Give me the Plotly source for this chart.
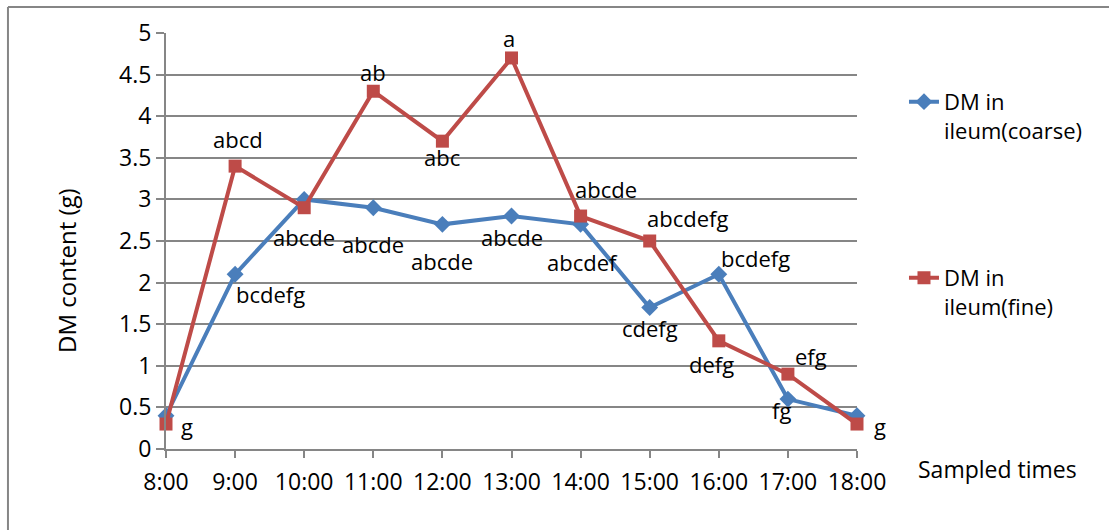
import plotly.graph_objects as go

# Sampling times and dry-matter content in the ileum
times = ["8:00", "9:00", "10:00", "11:00", "12:00", "13:00",
         "14:00", "15:00", "16:00", "17:00", "18:00"]
coarse = [0.4, 2.1, 3.0, 2.9, 2.7, 2.8, 2.7, 1.7, 2.1, 0.6, 0.4]
fine = [0.3, 3.4, 2.9, 4.3, 3.7, 4.7, 2.8, 2.5, 1.3, 0.9, 0.3]

# Significance letters attached to each point ("" = no label)
coarse_letters = ["", "bcdefg", "abcde", "abcde", "abcde", "abcde",
                  "abcdef", "cdefg", "bcdefg", "fg", ""]
fine_letters = ["g", "abcd", "", "ab", "abc", "a",
                "abcde", "abcdefg", "defg", "efg", "g"]

# Pixel offsets of each letter label from its point
coarse_offsets = [(0, 0), (35, -20), (0, -38), (0, -36), (0, -37), (0, -21),
                  (2, -38), (0, -20), (37, 16), (-6, -11), (0, 0)]
fine_offsets = [(21, -2), (3, 27), (0, 0), (0, 19), (0, -16), (-3, 20),
                (25, 27), (38, 23), (-7, -23), (23, 18), (23, -2)]

BLUE = "#4A7EBB"
RED = "#BE4B48"
GRID = "#868686"
FONT = "Open Sans"

fig = go.Figure()
fig.add_trace(go.Scatter(
    x=times, y=coarse, mode="lines+markers", name="DM in<br>ileum(coarse)",
    line=dict(color=BLUE, width=4),
    marker=dict(symbol="diamond", size=13, color=BLUE),
    cliponaxis=False, legendgroup="c"))
fig.add_trace(go.Scatter(
    x=times, y=fine, mode="lines+markers", name="DM in<br>ileum(fine)",
    line=dict(color=RED, width=4),
    marker=dict(symbol="square", size=13, color=RED),
    cliponaxis=False, legendgroup="f"))

annotations = []
for letters, values, offsets in ((coarse_letters, coarse, coarse_offsets),
                                 (fine_letters, fine, fine_offsets)):
    for t, v, lab, (dx, dy) in zip(times, values, letters, offsets):
        if lab:
            annotations.append(dict(
                x=t, y=v, xref="x", yref="y", text=lab, showarrow=False,
                xanchor="center", yanchor="middle",
                xshift=dx, yshift=dy, font=dict(family=FONT, size=22, color="black")))

# Axis titles
annotations.append(dict(
    text="DM content (g)", xref="paper", yref="paper", x=-0.145, y=0.43,
    xanchor="center", yanchor="middle",
    textangle=-90, showarrow=False, font=dict(family=FONT, size=24, color="black")))
annotations.append(dict(
    text="Sampled times", xref="paper", yref="paper", x=1.204, y=-0.047,
    xanchor="center", yanchor="middle",
    showarrow=False, font=dict(family=FONT, size=23, color="black")))

fig.update_layout(
    width=1109, height=530,
    margin=dict(l=166, r=252, t=33, b=81),
    paper_bgcolor="white", plot_bgcolor="white",
    font=dict(family=FONT, size=23, color="black"),
    annotations=annotations,
    showlegend=True,
    legend=dict(x=1.068, y=0.885, xanchor="left", yanchor="top",
                traceorder="grouped", tracegroupgap=116, valign="top",
                font=dict(family=FONT, size=22, color="black"),
                bgcolor="rgba(0,0,0,0)", itemwidth=30),
    shapes=[
        dict(type="line", xref="paper", yref="paper", x0=-0.2287, x1=1.3777,
             y0=1.0625, y1=1.0625, line=dict(color=GRID, width=2)),
        dict(type="line", xref="paper", yref="paper", x0=-0.2287, x1=-0.2287,
             y0=1.0625, y1=-0.2, line=dict(color=GRID, width=2)),
    ],
)
fig.update_xaxes(
    type="category", range=[0, 10], showgrid=False, showline=True,
    linecolor=GRID, linewidth=2, ticks="outside", ticklen=7, tickcolor=GRID,
    tickwidth=2, ticklabelstandoff=4,
    tickfont=dict(family=FONT, size=23, color="black"))
fig.update_yaxes(
    range=[0, 5], dtick=0.5, showgrid=True, gridcolor=GRID, gridwidth=2,
    zeroline=False, showline=True, linecolor=GRID, linewidth=2,
    ticks="outside", ticklen=8, tickcolor=GRID, tickwidth=2,
    tickfont=dict(family=FONT, size=23, color="black"))

fig.write_html("out.html")
